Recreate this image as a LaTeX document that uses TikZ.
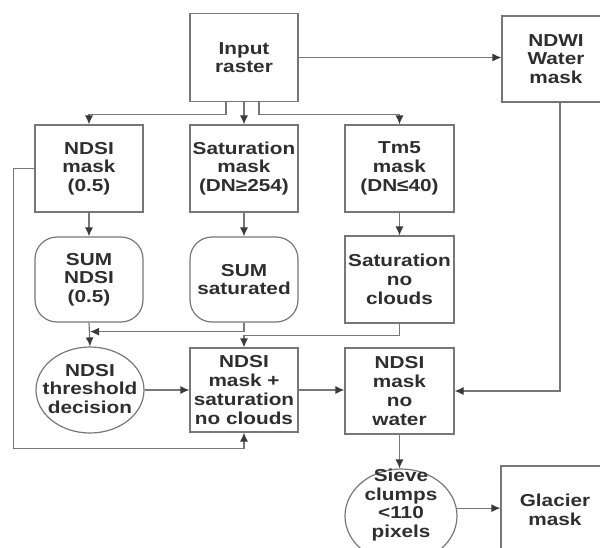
\documentclass[tikz,border=0pt]{standalone}
\usepackage{fontspec}
\newfontfamily\lblfont{Liberation Sans Bold}[FakeStretch=1.2]
\usetikzlibrary{arrows.meta,shapes.geometric}
\definecolor{linegray}{HTML}{777777}
\definecolor{tipgray}{HTML}{3A3A3A}
\definecolor{textgray}{HTML}{2E2E2E}
\tikzset{
  base/.style={draw=linegray, line width=1.2pt, text=textgray, align=center,
    inner sep=0pt, font=\lblfont\fontsize{17.3}{18.7}\selectfont},
  box/.style={base, rectangle, minimum width=108pt, minimum height=87pt},
  rbox/.style={box, rounded corners=22pt},
  oval/.style={base, ellipse, minimum width=108pt, minimum height=86pt},
  txt/.style={text=textgray, align=center, inner sep=0pt,
    font=\lblfont\fontsize{17.3}{18.7}\selectfont},
  arr/.style={draw=linegray, line width=1.2pt,
    -{Latex[length=9pt,width=8pt,fill=tipgray,color=tipgray]}},
}
\begin{document}
\begin{tikzpicture}[x=1pt,y=-1pt]
\path[use as bounding box] (0,0) rectangle (600,547);
\clip (0,0) rectangle (600,547);

% top row
\node[box, minimum height=88pt] (in) at (244,57.5) {Input\\raster};
\node[box, minimum height=86pt] (ndwi) at (556,59) {NDWI\\Water\\mask};

% masks
\node[box] (ndsi) at (89,168.5) {NDSI\\mask\\(0.5)};
\node[box] (sat) at (244,168.5) {Saturation\\mask\\(DN≥254)};
\node[box, minimum width=109pt] (tm5) at (399.5,168.5) {Tm5\\mask\\(DN≤40)};

% sums
\node[rbox, minimum height=85pt] (sumndsi) at (89,279.5) {SUM\\NDSI\\(0.5)};
\node[rbox, minimum height=85pt] (sumsat) at (244,279.5) {SUM\\saturated};
\node[box, minimum width=109pt] (satnc) at (399.5,279.5) {Saturation\\no\\clouds};

% combination
\node[oval] (thr) at (90,390) {};
\node[txt] (thrtxt) at (90,389) {NDSI\\threshold\\decision};
\node[box, minimum height=84pt] (nsat) at (244,390) {NDSI\\mask +\\saturation\\no clouds};
\node[box, minimum width=109pt, minimum height=86pt] (nnw) at (399.5,391) {NDSI\\mask\\no\\water};

% final steps
\node[oval, minimum width=112pt, minimum height=94pt] (sieve) at (401,516) {};
\node[txt] (sievetxt) at (401,505) {Sieve\\clumps\\<110\\pixels};
\node[box] (glacier) at (555,509.5) {Glacier\\mask};

% connectors
\draw[arr] ([xshift=-18pt]in.south) -- ++(0,12) -| (ndsi.north);
\draw[arr] (in.south) -- (sat.north);
\draw[arr] ([xshift=15pt]in.south) -- ++(0,12) -| (tm5.north);
\draw[arr] (in.east) -- (in.east -| ndwi.west);

\draw[arr] (ndsi.south) -- (sumndsi.north);
\draw[arr] (sat.south) -- (sumsat.north);
\draw[arr] (tm5.south) -- (satnc.north);

\draw[arr] (ndsi.west) -- ++(-21,0) |- ([yshift=-16pt]nsat.south) -- (nsat.south);
\draw[arr, shorten >=1pt] (sumsat.south) |- ([yshift=-9pt]sumndsi.south);
\draw[arr] (sumndsi.south) -- (thr.north);
\draw[arr] (satnc.south) -- ++(0,12) -| (nsat.north);

\draw[arr] (thr.east) -- (nsat.west);
\draw[arr] (nsat.east) -- (nsat.east -| nnw.west);
\draw[arr] ([xshift=4pt]ndwi.south) |- (nnw.east);
\draw[arr] (nnw.south) -- (nnw.south |- sieve.north);
\draw[arr] (sieve.8) -- (sieve.8 -| glacier.west);
\end{tikzpicture}
\end{document}
